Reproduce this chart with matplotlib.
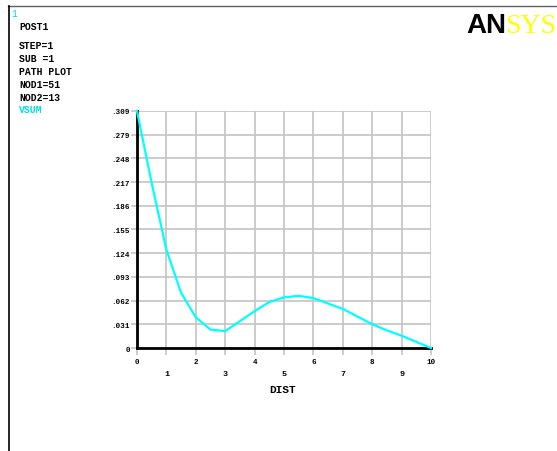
import numpy as np
import matplotlib
matplotlib.use("Agg")
import matplotlib.pyplot as plt
from matplotlib.lines import Line2D

# ---- data ----
dist = [0, 0.5, 1, 1.5, 2, 2.5, 3, 3.5, 4, 4.5, 5, 5.5, 6, 6.5, 7, 7.5, 8, 8.5, 9, 9.5, 10]
vsum = [0.309, 0.215, 0.128, 0.072, 0.040, 0.024, 0.022, 0.035, 0.048, 0.060, 0.066,
        0.068, 0.065, 0.058, 0.051, 0.041, 0.031, 0.023, 0.016, 0.008, 0.0]
ytick_labels = ["0", ".031", ".062", ".093", ".124", ".155", ".186", ".217", ".248", ".279", ".309"]
x_even = [0, 2, 4, 6, 8, 10]
x_even_labels = ["0", "2", "4", "6", "8", "10"]
x_odd = [1, 3, 5, 7, 9]
x_odd_labels = ["1", "3", "5", "7", "9"]
info_lines = ["STEP=1", "SUB =1", "PATH PLOT", "NOD1=51", "NOD2=13"]
ymax = 0.309

W, H = 557, 452
fig = plt.figure(figsize=(W / 100, H / 100), dpi=100)
fig.patch.set_facecolor("white")

def fx(px):
    return px / W

def fy(py):
    return 1 - py / H

ax = fig.add_axes([fx(137), fy(349), fx(431) - fx(137), fy(112) - fy(349)])
ax.set_xlim(0, 10)
ax.set_ylim(0, ymax)

mono = "Liberation Mono"
grid_c = "#c4c4c4"

ax.plot(dist, vsum, color="#00ffff", lw=1.6, zorder=5, clip_on=False)

yt = np.linspace(0, ymax, len(ytick_labels))
ax.set_yticks(yt)
ax.set_yticklabels(ytick_labels, fontfamily=mono, fontsize=5.5, fontweight="bold")
ax.set_xticks(x_even)
ax.set_xticklabels(x_even_labels, fontfamily=mono, fontsize=5.5, fontweight="bold")
ax.set_xticks(x_odd, minor=True)
ax.set_xticklabels(x_odd_labels, minor=True, fontfamily=mono, fontsize=6, fontweight="bold")

ax.tick_params(axis="x", which="major", length=5, width=1.2, color=grid_c, pad=2)
ax.tick_params(axis="x", which="minor", length=5, width=1.2, color=grid_c, pad=11)
ax.tick_params(axis="y", length=4, width=1.2, color=grid_c, pad=1)

ax.grid(True, which="both", color=grid_c, lw=1.2)
ax.set_axisbelow(True)
for s in ["top", "right"]:
    ax.spines[s].set_visible(False)
for s in ["left", "bottom"]:
    ax.spines[s].set_color("black")
    ax.spines[s].set_linewidth(2)
    ax.spines[s].set_zorder(4)

fig.text(fx(283), fy(390), "DIST", fontfamily=mono, fontsize=8, fontweight="bold",
         ha="center", va="center")

# header texts
fig.text(fx(11), fy(14), "1", fontfamily=mono, fontsize=7, color="#00e0e0", ha="left", va="center")
fig.text(fx(19), fy(27), "POST1", fontfamily=mono, fontsize=7, fontweight="bold", ha="left", va="center")
for i, t in enumerate(info_lines):
    fig.text(fx(19), fy(46 + 13 * i), t, fontfamily=mono, fontsize=7, fontweight="bold",
             ha="left", va="center")
fig.text(fx(19), fy(110), "VSUM", fontfamily=mono, fontsize=7, fontweight="bold",
         color="#00e0e0", ha="left", va="center")

# logo
fig.text(fx(466), fy(33), "AN", fontfamily="Liberation Sans", fontsize=20, fontweight="bold",
         color="black", ha="left", va="baseline")
fig.text(fx(556), fy(33), "SYS", fontfamily="Liberation Serif", fontsize=20,
         color="#ffff00", ha="right", va="baseline")

# frame
fig.add_artist(Line2D([fx(8), 1], [fy(7), fy(7)], color="#606060", lw=1, transform=fig.transFigure))
fig.add_artist(Line2D([fx(8.5), fx(8.5)], [fy(7), 0], color="black", lw=1.2, transform=fig.transFigure))

fig.savefig("out.png", dpi=100)
